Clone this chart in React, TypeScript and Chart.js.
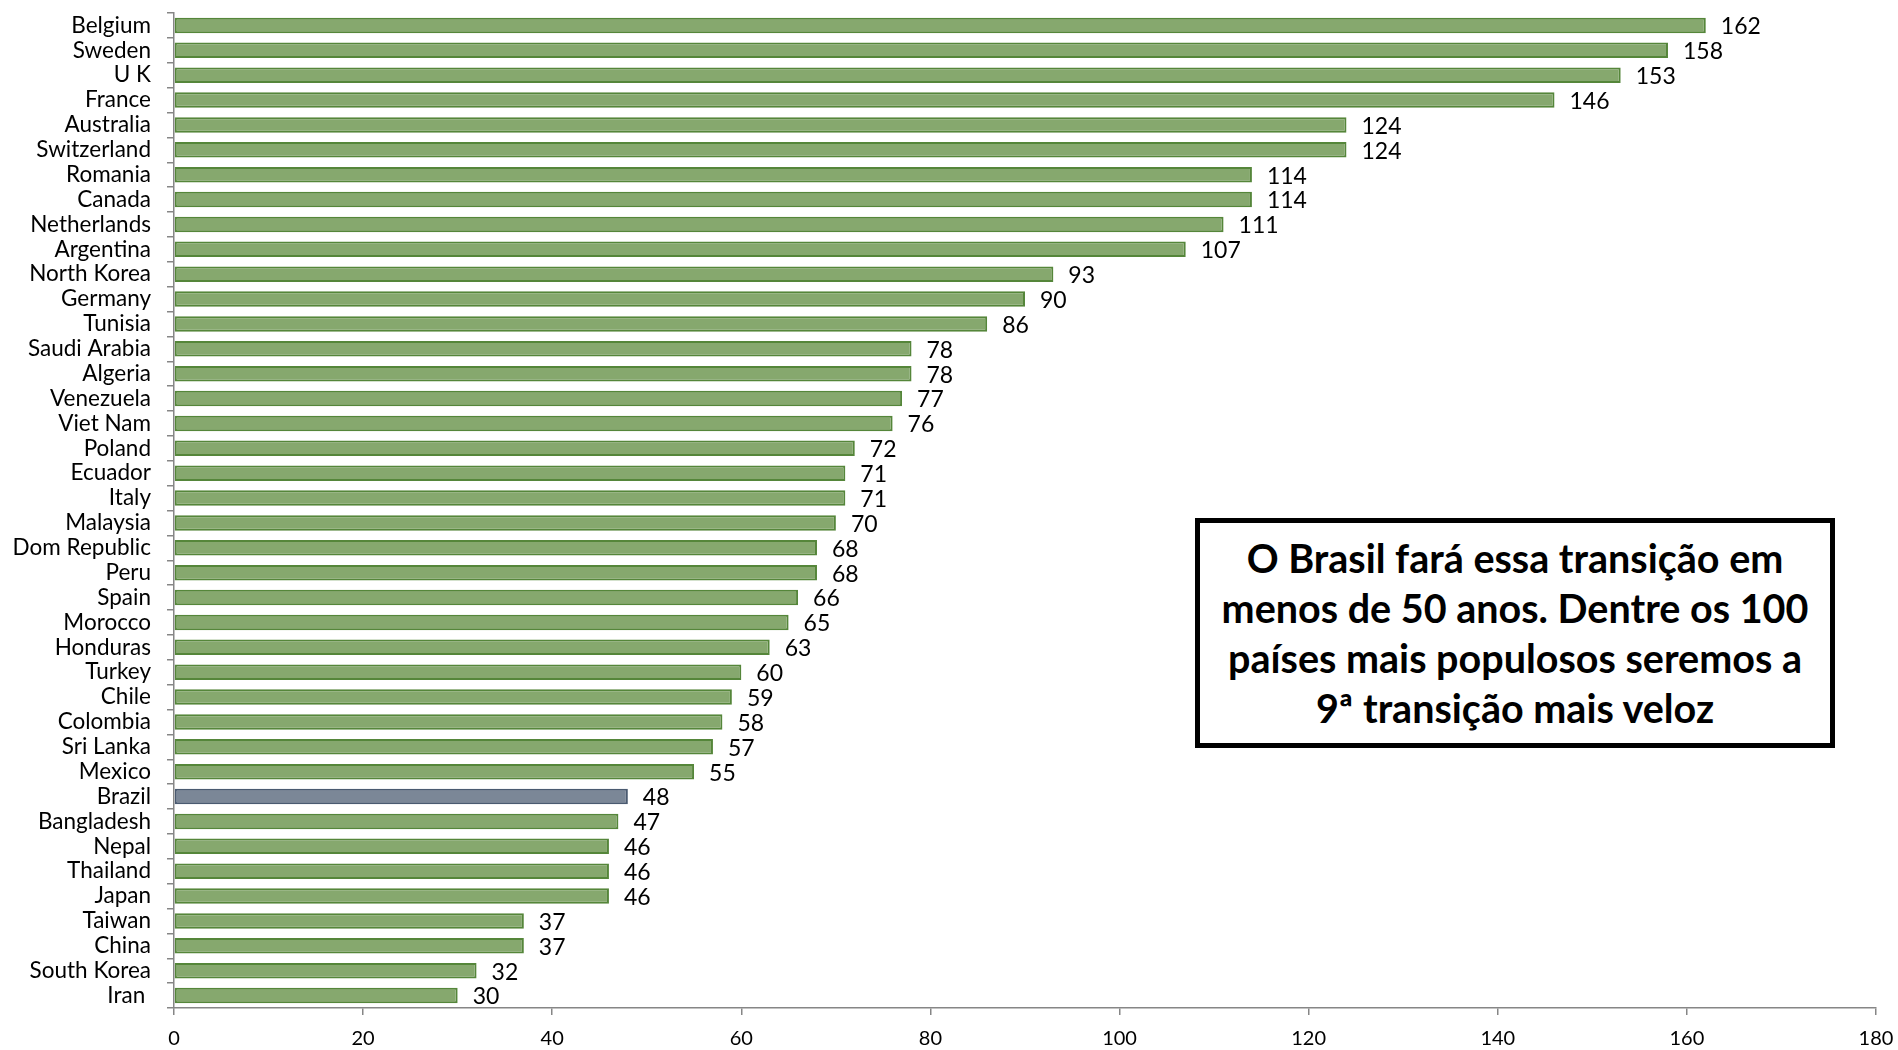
import React, { useEffect, useRef } from "react";
import { Chart, registerables } from "chart.js";

Chart.register(...registerables);

const countries: string[] = [
  "Belgium", "Sweden", "U K", "France", "Australia", "Switzerland", "Romania", "Canada",
  "Netherlands", "Argentina", "North Korea", "Germany", "Tunisia", "Saudi Arabia", "Algeria",
  "Venezuela", "Viet Nam", "Poland", "Ecuador", "Italy", "Malaysia", "Dom Republic", "Peru",
  "Spain", "Morocco", "Honduras", "Turkey", "Chile", "Colombia", "Sri Lanka", "Mexico",
  "Brazil", "Bangladesh", "Nepal", "Thailand", "Japan", "Taiwan", "China", "South Korea", "Iran ",
];

const years: number[] = [
  162, 158, 153, 146, 124, 124, 114, 114,
  111, 107, 93, 90, 86, 78, 78,
  77, 76, 72, 71, 71, 70, 68, 68,
  66, 65, 63, 60, 59, 58, 57, 55,
  48, 47, 46, 46, 46, 37, 37, 32, 30,
];

const highlighted = "Brazil";
const xTicks: number[] = [0, 20, 40, 60, 80, 100, 120, 140, 160, 180];

const noteLines: string[] = [
  "O Brasil fará essa transição em",
  "menos de 50 anos. Dentre os 100",
  "países mais populosos seremos a",
  "9ª transição mais veloz",
];

const FONT = "Lato, 'Open Sans', sans-serif";

const valueLabels = {
  id: "valueLabels",
  afterDatasetsDraw(chart: any) {
    const ctx = chart.ctx;
    const meta = chart.getDatasetMeta(0);
    ctx.save();
    ctx.font = `23px ${FONT}`;
    ctx.fillStyle = "#000";
    ctx.textAlign = "left";
    ctx.textBaseline = "middle";
    meta.data.forEach((el: any, i: number) => {
      ctx.fillText(String(years[i]), el.x + 15, el.y + 1.5);
    });
    ctx.restore();
  },
};

export default function App() {
  const ref = useRef<HTMLCanvasElement | null>(null);

  useEffect(() => {
    document.body.style.margin = "0";
    const canvas = ref.current!;
    const chart = new Chart(canvas, {
      type: "bar",
      data: {
        labels: countries,
        datasets: [
          {
            data: years,
            backgroundColor: countries.map((c) => (c === highlighted ? "#7b8797" : "#86a86e")),
            borderColor: countries.map((c) => (c === highlighted ? "#4a5a70" : "#55863a")),
            borderWidth: 2,
            borderSkipped: false,
            barPercentage: 0.62,
            categoryPercentage: 1,
          },
        ],
      },
      options: {
        indexAxis: "y",
        animation: false,
        responsive: false,
        devicePixelRatio: 1,
        layout: { padding: { top: 13, right: 22, left: 0, bottom: 0 } },
        plugins: {
          legend: { display: false },
          tooltip: { enabled: false },
        },
        scales: {
          x: {
            min: 0,
            max: 180,
            afterBuildTicks: (s: any) => {
              s.ticks = xTicks.map((v) => ({ value: v }));
            },
            afterFit: (s: any) => {
              s.height = 42;
              s.paddingRight = 0;
              s.paddingLeft = 0;
              s.paddingTop = 0;
              s.paddingBottom = 0;
            },
            grid: {
              drawOnChartArea: false,
              drawTicks: true,
              tickLength: 7,
              color: "#868686",
              lineWidth: 1.5,
            },
            border: { color: "#868686", width: 1.5 },
            ticks: {
              color: "#000",
              font: { family: FONT, size: 20 },
              padding: 12,
              maxRotation: 0,
            },
          },
          y: {
            afterFit: (s: any) => {
              s.width = 174;
              s.paddingTop = 0;
              s.paddingBottom = 0;
              s.paddingLeft = 0;
              s.paddingRight = 0;
            },
            grid: {
              offset: true,
              drawOnChartArea: false,
              drawTicks: true,
              tickLength: 7,
              color: "#868686",
              lineWidth: 1.5,
            },
            border: { color: "#868686", width: 1.5 },
            ticks: {
              color: "#000",
              font: { family: FONT, size: 22.5 },
              padding: 16,
              autoSkip: false,
            },
          },
        },
      },
      plugins: [valueLabels],
    } as any);
    return () => chart.destroy();
  }, []);

  return (
    <div style={{ position: "absolute", left: 0, top: 0, width: 1898, height: 1050, background: "#fff" }}>
      <canvas ref={ref} width={1898} height={1050} style={{ display: "block" }} />
      <div
        style={{
          position: "absolute",
          left: 1195,
          top: 518,
          width: 640,
          height: 230,
          boxSizing: "border-box",
          border: "5px solid #000",
          background: "#fff",
          display: "flex",
          flexDirection: "column",
          justifyContent: "center",
          alignItems: "center",
          fontFamily: FONT,
          fontWeight: 700,
          fontSize: 39.5,
          lineHeight: "50px",
          color: "#000",
          textAlign: "center",
        }}
      >
        {noteLines.map((l, i) => (
          <div key={i}>{l}</div>
        ))}
      </div>
    </div>
  );
}
